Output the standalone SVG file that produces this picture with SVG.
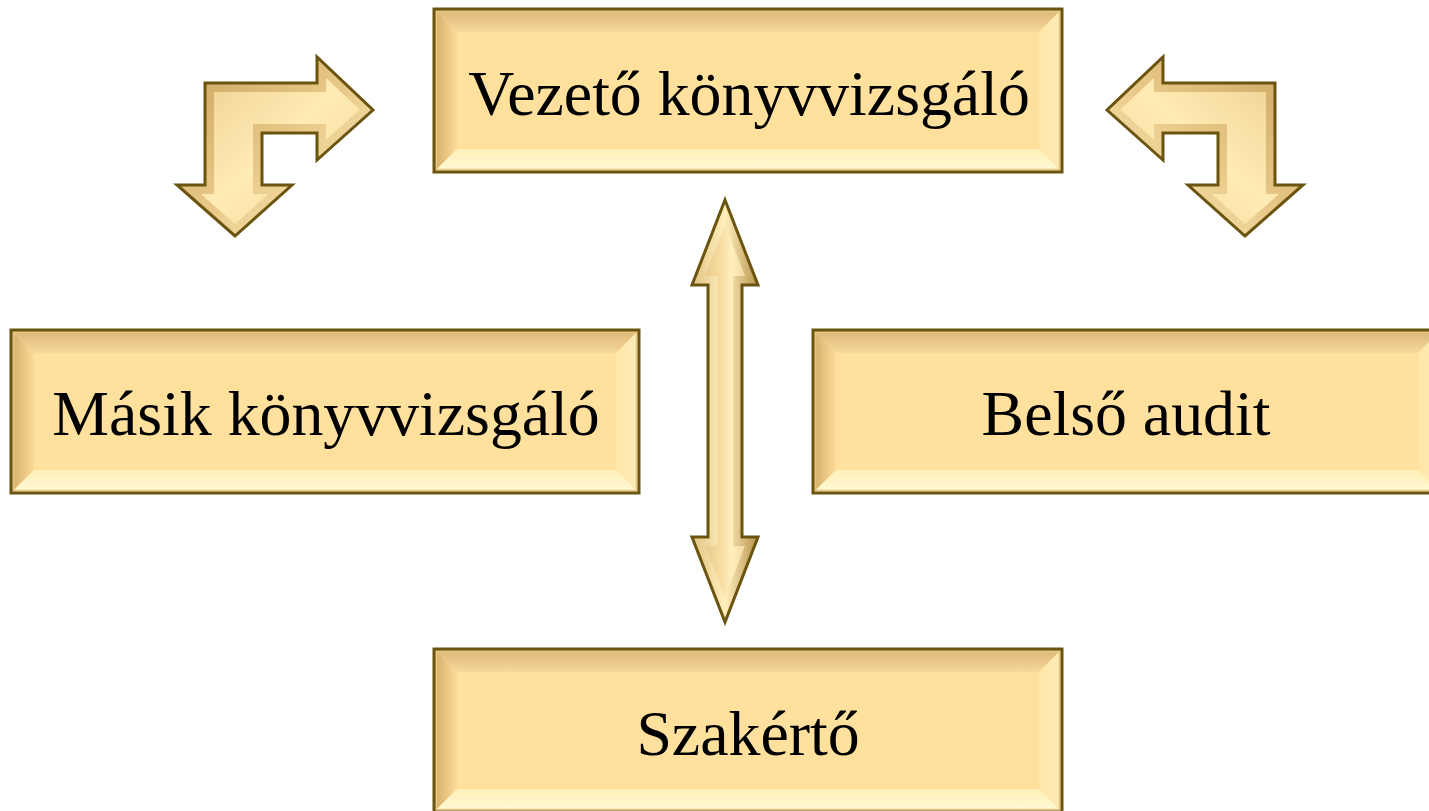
<svg xmlns="http://www.w3.org/2000/svg" xmlns:xlink="http://www.w3.org/1999/xlink" width="1429" height="811" viewBox="0 0 1429 811">
<style>
.lbl{font-family:"Liberation Serif","Times New Roman",serif;font-size:63.8px;fill:#000;text-anchor:middle}
.edge{fill:none;stroke:#6B5410;stroke-width:3;stroke-linejoin:miter}
.aedge{fill:none;stroke:#6B5410;stroke-width:3;stroke-linejoin:miter}
.abevel{fill:none;stroke-width:18;stroke-linejoin:miter}
</style>
<defs>
<linearGradient id="gTop" x1="0" y1="0" x2="0" y2="1"><stop offset="0" stop-color="#D8B678"/><stop offset="1" stop-color="#F7D899"/></linearGradient>
<linearGradient id="gLeft" x1="0" y1="0" x2="1" y2="0"><stop offset="0" stop-color="#D2AD68"/><stop offset="1" stop-color="#FCDB98"/></linearGradient>
<linearGradient id="gBottom" x1="0" y1="0" x2="0" y2="1"><stop offset="0" stop-color="#FFF0B8"/><stop offset="1" stop-color="#FFF9D6"/></linearGradient>
<linearGradient id="gRight" x1="0" y1="0" x2="1" y2="0"><stop offset="0" stop-color="#FFE6A8"/><stop offset="1" stop-color="#FFEDB8"/></linearGradient>
<g id="box">
<rect x="0" y="0" width="628" height="163" fill="#FFE19D"/>
<polygon points="0,0 628,0 605,23 23,23" fill="url(#gTop)"/>
<polygon points="0,0 23,23 23,140 0,163" fill="url(#gLeft)"/>
<polygon points="0,163 23,140 605,140 628,163" fill="url(#gBottom)"/>
<polygon points="628,0 628,163 605,140 605,23" fill="url(#gRight)"/>
<rect x="2.5" y="2.5" width="623" height="158" fill="none" stroke="#E8C680" stroke-width="1.5"/>
<rect x="0" y="0" width="628" height="163" class="edge"/>
</g>
<linearGradient id="gArrowL" x1="0" y1="0" x2="1" y2="1"><stop offset="0" stop-color="#E9C98A"/><stop offset="0.5" stop-color="#FFEBB4"/><stop offset="1" stop-color="#F3D596"/></linearGradient>
<linearGradient id="gArrowR" x1="1" y1="0" x2="0" y2="1"><stop offset="0" stop-color="#E9C98A"/><stop offset="0.5" stop-color="#FFEBB4"/><stop offset="1" stop-color="#F3D596"/></linearGradient>
<linearGradient id="gArrowV" x1="0" y1="0" x2="1" y2="0"><stop offset="0" stop-color="#DDBB78"/><stop offset="0.45" stop-color="#F8DDA2"/><stop offset="0.6" stop-color="#FFEFBE"/><stop offset="1" stop-color="#E6C686"/></linearGradient>
<linearGradient id="gBevA" x1="0" y1="0" x2="1" y2="1"><stop offset="0" stop-color="#C9A45C"/><stop offset="0.5" stop-color="#E8C888"/><stop offset="1" stop-color="#FFF2C0"/></linearGradient>
<linearGradient id="gBevB" x1="1" y1="0" x2="0" y2="1"><stop offset="0" stop-color="#C9A45C"/><stop offset="0.5" stop-color="#E8C888"/><stop offset="1" stop-color="#FFF2C0"/></linearGradient>
<linearGradient id="gBevV" x1="0" y1="0" x2="1" y2="0"><stop offset="0" stop-color="#E2C283"/><stop offset="0.5" stop-color="#FFF0BE"/><stop offset="1" stop-color="#B8924C"/></linearGradient>
<polygon id="bentL" points="205,83 317,83 317,57 373,110 317,160 317,133 262,133 262,185 292,185 235,236 177,185 205,185"/>
<polygon id="bentR" points="1275,83 1163,83 1163,57 1107,110 1163,160 1163,133 1218,133 1218,185 1188,185 1245,236 1303,185 1275,185"/>
<polygon id="dbl" points="725,200 758,285 742,285 742,537 758,537 725,622 692,537 708,537 708,285 692,285"/>
<clipPath id="cL"><use xlink:href="#bentL"/></clipPath>
<clipPath id="cR"><use xlink:href="#bentR"/></clipPath>
<clipPath id="cV"><use xlink:href="#dbl"/></clipPath>
</defs>

<g id="connectors">
<g id="arrow-left-bent">
<use xlink:href="#bentL" fill="url(#gArrowL)"/>
<use xlink:href="#bentL" class="abevel" stroke="url(#gBevA)" clip-path="url(#cL)"/>
<use xlink:href="#bentL" class="aedge"/>
</g>
<g id="arrow-right-bent">
<use xlink:href="#bentR" fill="url(#gArrowR)"/>
<use xlink:href="#bentR" class="abevel" stroke="url(#gBevB)" clip-path="url(#cR)"/>
<use xlink:href="#bentR" class="aedge"/>
</g>
<g id="arrow-vertical">
<use xlink:href="#dbl" fill="url(#gArrowV)"/>
<use xlink:href="#dbl" class="abevel" stroke="url(#gBevV)" stroke-width="10" clip-path="url(#cV)"/>
<use xlink:href="#dbl" class="aedge"/>
</g>
</g>

<g id="node-vezeto">
<use xlink:href="#box" x="434" y="9"/>
<text class="lbl" x="749" y="115">Vezető könyvvizsgáló</text>
</g>
<g id="node-masik">
<use xlink:href="#box" x="11" y="330"/>
<text class="lbl" x="326" y="435">Másik könyvvizsgáló</text>
</g>
<g id="node-belso">
<use xlink:href="#box" x="813" y="330"/>
<text class="lbl" x="1126" y="435">Belső audit</text>
</g>
<g id="node-szakerto">
<use xlink:href="#box" x="434" y="649"/>
<text class="lbl" x="748" y="755">Szakértő</text>
</g>
</svg>
